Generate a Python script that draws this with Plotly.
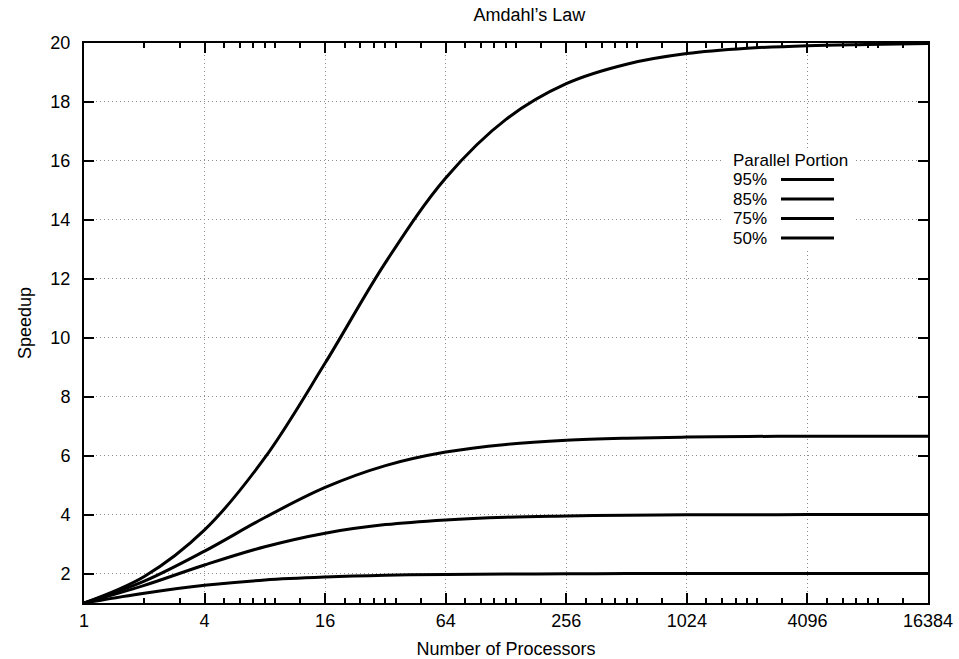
import plotly.graph_objects as go

processors = [1, 2, 4, 8, 16, 32, 64, 128, 256, 512, 1024, 2048, 4096, 8192, 16384]
speedup_95 = [1.0, 1.90, 3.48, 5.93, 9.14, 12.55, 15.42, 17.41, 18.62, 19.28, 19.64, 19.82, 19.91, 19.95, 19.98]
speedup_85 = [1.0, 1.74, 2.76, 3.90, 4.92, 5.66, 6.12, 6.38, 6.52, 6.59, 6.63, 6.65, 6.66, 6.66, 6.66]
speedup_75 = [1.0, 1.60, 2.29, 2.91, 3.37, 3.66, 3.82, 3.91, 3.95, 3.98, 3.99, 3.99, 4.0, 4.0, 4.0]
speedup_50 = [1.0, 1.33, 1.60, 1.78, 1.88, 1.94, 1.97, 1.98, 1.99, 2.0, 2.0, 2.0, 2.0, 2.0, 2.0]
series_names = ["95%", "85%", "75%", "50%"]
x_tick_vals = [1, 4, 16, 64, 256, 1024, 4096, 16384]
x_tick_text = ["1", "4", "16", "64", "256", "1024", "4096", "16384"]
y_tick_vals = [2, 4, 6, 8, 10, 12, 14, 16, 18, 20]

# minor ticks as drawn in the reference
minor_x = [2, 3]
for major in x_tick_vals[1:-1]:
    for m in [1.25, 1.5, 1.75, 2, 2.25, 3]:
        minor_x.append(major * m)

FONT = "Liberation Sans, Arial, sans-serif"
FS = 18
LFS = 17

L, R, T, B = 84, 928, 43, 603

fig = go.Figure()
for name, ys in zip(series_names, [speedup_95, speedup_85, speedup_75, speedup_50]):
    fig.add_trace(go.Scatter(x=processors, y=ys, mode="lines", name=name,
                             line=dict(color="black", width=3, shape="spline", smoothing=1.0),
                             showlegend=False))

fig.update_layout(
    width=959, height=659,
    margin=dict(l=L, r=959 - R, t=T, b=659 - B, autoexpand=False),
    paper_bgcolor="white", plot_bgcolor="white",
    font=dict(family=FONT, color="black", size=FS),
    title=dict(text="Amdahl’s Law", x=(506) / 959, xanchor="center",
               y=1 - 15 / 659, yanchor="middle",
               xref="paper", yref="container",
               font=dict(size=FS, family=FONT, color="black")),
    xaxis=dict(type="log", range=[0, 4.21442], tickmode="array", tickvals=x_tick_vals,
               ticktext=x_tick_text, ticks="inside", ticklen=10, tickwidth=1.5, tickcolor="black",
               showline=True, linecolor="black", linewidth=2, mirror="ticks",
               showgrid=True, gridcolor="#8c8c8c", griddash="1px,3px", gridwidth=1,
               zeroline=False, ticklabelstandoff=0, automargin=False,
               tickfont=dict(size=FS, family=FONT),
               minor=dict(tickmode="array", tickvals=minor_x, ticks="inside", ticklen=5,
                          tickwidth=1.5, tickcolor="black", showgrid=False),
               title=dict(text="Number of Processors", font=dict(size=FS, family=FONT), standoff=15)),
    yaxis=dict(range=[1, 20], tickmode="array", tickvals=y_tick_vals,
               ticks="inside", ticklen=10, tickwidth=1.5, tickcolor="black",
               showline=True, linecolor="black", linewidth=2, mirror="ticks",
               showgrid=True, gridcolor="#8c8c8c", griddash="1px,3px", gridwidth=1,
               zeroline=False, ticklabelstandoff=8, automargin=False,
               tickfont=dict(size=FS, family=FONT),
               title=dict(text="Speedup", font=dict(size=FS, family=FONT), standoff=14)),
)

# legend box (drawn like the reference: labels left, line samples right)
def px_x(px):
    return (px - L) / (R - L)

def px_y(py):
    return (B - py) / (B - T)

fig.add_shape(type="rect", xref="paper", yref="paper",
              x0=px_x(724), x1=px_x(853), y0=px_y(250), y1=px_y(150),
              fillcolor="white", line=dict(width=0), layer="above")
fig.add_annotation(text="Parallel Portion", xref="paper", yref="paper",
                   x=px_x(790), y=px_y(160), xanchor="center", yanchor="middle",
                   showarrow=False, font=dict(size=LFS, family=FONT))
row_y = [179.5, 199, 218.5, 238]
for name, ry in zip(series_names, row_y):
    fig.add_annotation(text=name, xref="paper", yref="paper",
                       x=px_x(769), y=px_y(ry), xanchor="right", yanchor="middle",
                       showarrow=False, font=dict(size=LFS, family=FONT))
    fig.add_shape(type="line", xref="paper", yref="paper",
                  x0=px_x(781), x1=px_x(834), y0=px_y(ry), y1=px_y(ry),
                  line=dict(color="black", width=3), layer="above")

fig.write_html("out.html")
